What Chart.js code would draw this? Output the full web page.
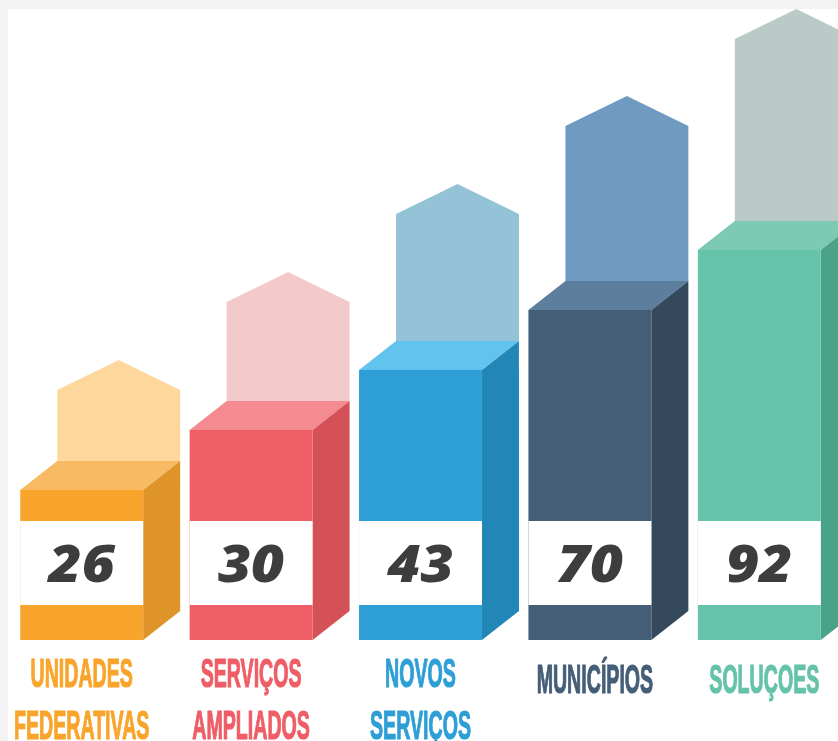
<!DOCTYPE html>
<html>
<head>
<meta charset="utf-8">
<script src="https://cdn.jsdelivr.net/npm/chart.js@4/dist/chart.umd.min.js"></script>
<style>
  html, body { margin: 0; padding: 0; width: 838px; height: 741px; overflow: hidden; background: #f3f3f3; }
  #wrap { position: absolute; left: -4px; top: 0; width: 852px; height: 741px; }
  canvas { display: block; }
</style>
</head>
<body>
<div id="wrap"><canvas id="c" width="852" height="741"></canvas></div>
<script>
// ---- data ----
const categories = [["UNIDADES", "FEDERATIVAS"], ["SERVIÇOS", "AMPLIADOS"], ["NOVOS", "SERVIÇOS"], ["MUNICÍPIOS"], ["SOLUÇOES"]];
const values = [26, 30, 43, 70, 92];
const barHeights = [150, 210, 270, 330, 390];
const arrowHeights = [280, 368, 456, 544, 631];

// ---- styles ----
const frontColors = ["#F9A42A", "#EF5D66", "#2E9FD6", "#445E78", "#64C3A8"];
const sideColors  = ["#DE9428", "#D45157", "#2287B6", "#344A5C", "#4AA389"];
const topColors   = ["#F8BA62", "#F38B91", "#62C3EF", "#5D7E9C", "#7DCAB4"];
const arrowColors = ["#FDD79C", "#F4C9CB", "#94C3D8", "#6F9AC1", "#BACBC7"];
const labelColors = ["#F9A42A", "#EF5D66", "#2E9FD6", "#445E78", "#64C3A8"];
const DX = 37, DY = 29, SHOULDER = 30;

const deco = {
  id: 'deco',
  beforeDraw(chart) {
    const ctx = chart.ctx;
    ctx.save();
    ctx.fillStyle = '#ffffff';
    ctx.fillRect(0, 0, chart.width, chart.height);
    ctx.fillStyle = '#f3f3f3';
    ctx.fillRect(0, 0, chart.width, 9);
    ctx.fillRect(0, 0, 12, chart.height);
    ctx.restore();
  },
  beforeDatasetsDraw(chart) {
    const ctx = chart.ctx;
    const ys = chart.scales.y;
    const meta = chart.getDatasetMeta(0);
    ctx.save();
    meta.data.forEach((el, i) => {
      const p = el.getProps(['x', 'y', 'base', 'width'], true);
      const xL = p.x - p.width / 2, xR = p.x + p.width / 2, yT = p.y, yB = p.base;
      const apex = ys.getPixelForValue(arrowHeights[i]);
      // ghost arrow
      ctx.fillStyle = arrowColors[i];
      ctx.beginPath();
      ctx.moveTo(xL + DX, yT - DY);
      ctx.lineTo(xL + DX, apex + SHOULDER);
      ctx.lineTo(p.x + DX, apex);
      ctx.lineTo(xR + DX, apex + SHOULDER);
      ctx.lineTo(xR + DX, yT - DY);
      ctx.closePath();
      ctx.fill();
      // top face
      ctx.fillStyle = topColors[i];
      ctx.beginPath();
      ctx.moveTo(xL, yT);
      ctx.lineTo(xR, yT);
      ctx.lineTo(xR + DX, yT - DY);
      ctx.lineTo(xL + DX, yT - DY);
      ctx.closePath();
      ctx.fill();
      // side face
      ctx.fillStyle = sideColors[i];
      ctx.beginPath();
      ctx.moveTo(xR, yT);
      ctx.lineTo(xR + DX, yT - DY);
      ctx.lineTo(xR + DX, yB - DY);
      ctx.lineTo(xR, yB);
      ctx.closePath();
      ctx.fill();
    });
    ctx.restore();
  },
  afterDatasetsDraw(chart) {
    const ctx = chart.ctx;
    const meta = chart.getDatasetMeta(0);
    ctx.save();
    meta.data.forEach((el, i) => {
      const p = el.getProps(['x', 'y', 'base', 'width'], true);
      const xL = p.x - p.width / 2;
      // white value box
      ctx.fillStyle = '#ffffff';
      ctx.fillRect(xL, p.base - 119, p.width, 84);
      ctx.fillStyle = '#3d3d3d';
      ctx.font = 'italic 800 52px "Open Sans"';
      ctx.textAlign = 'center';
      ctx.textBaseline = 'alphabetic';
      ctx.save();
      ctx.translate(p.x, p.base - 58);
      ctx.scale(1.1, 1);
      ctx.fillText(String(values[i]), 0, 0);
      ctx.restore();
      // category label
      const lines = categories[i];
      ctx.font = 'bold 40px "Liberation Sans"';
      ctx.fillStyle = labelColors[i];
      ctx.strokeStyle = labelColors[i];
      ctx.lineWidth = 1.2;
      const first = lines.length > 1 ? 686.5 : 693;
      const shift = lines.length > 1 ? 0 : 5;
      lines.forEach((t, k) => {
        ctx.save();
        ctx.translate(p.x + shift, first + k * 52.5);
        ctx.scale(0.49, 1);
        ctx.fillText(t, 0, 0);
        ctx.strokeText(t, 0, 0);
        ctx.restore();
      });
    });
    ctx.restore();
  }
};

new Chart(document.getElementById('c'), {
  type: 'bar',
  data: {
    labels: categories,
    datasets: [{
      data: barHeights,
      backgroundColor: frontColors,
      borderWidth: 0,
      barPercentage: 0.7257,
      categoryPercentage: 1
    }]
  },
  options: {
    responsive: false,
    devicePixelRatio: 1,
    animation: false,
    layout: { padding: { left: 1, right: 4, top: 0, bottom: 101 } },
    scales: {
      x: { display: false },
      y: { display: false, min: 0, max: 640 }
    },
    plugins: { legend: { display: false }, tooltip: { enabled: false } }
  },
  plugins: [deco]
});
</script>
</body>
</html>
